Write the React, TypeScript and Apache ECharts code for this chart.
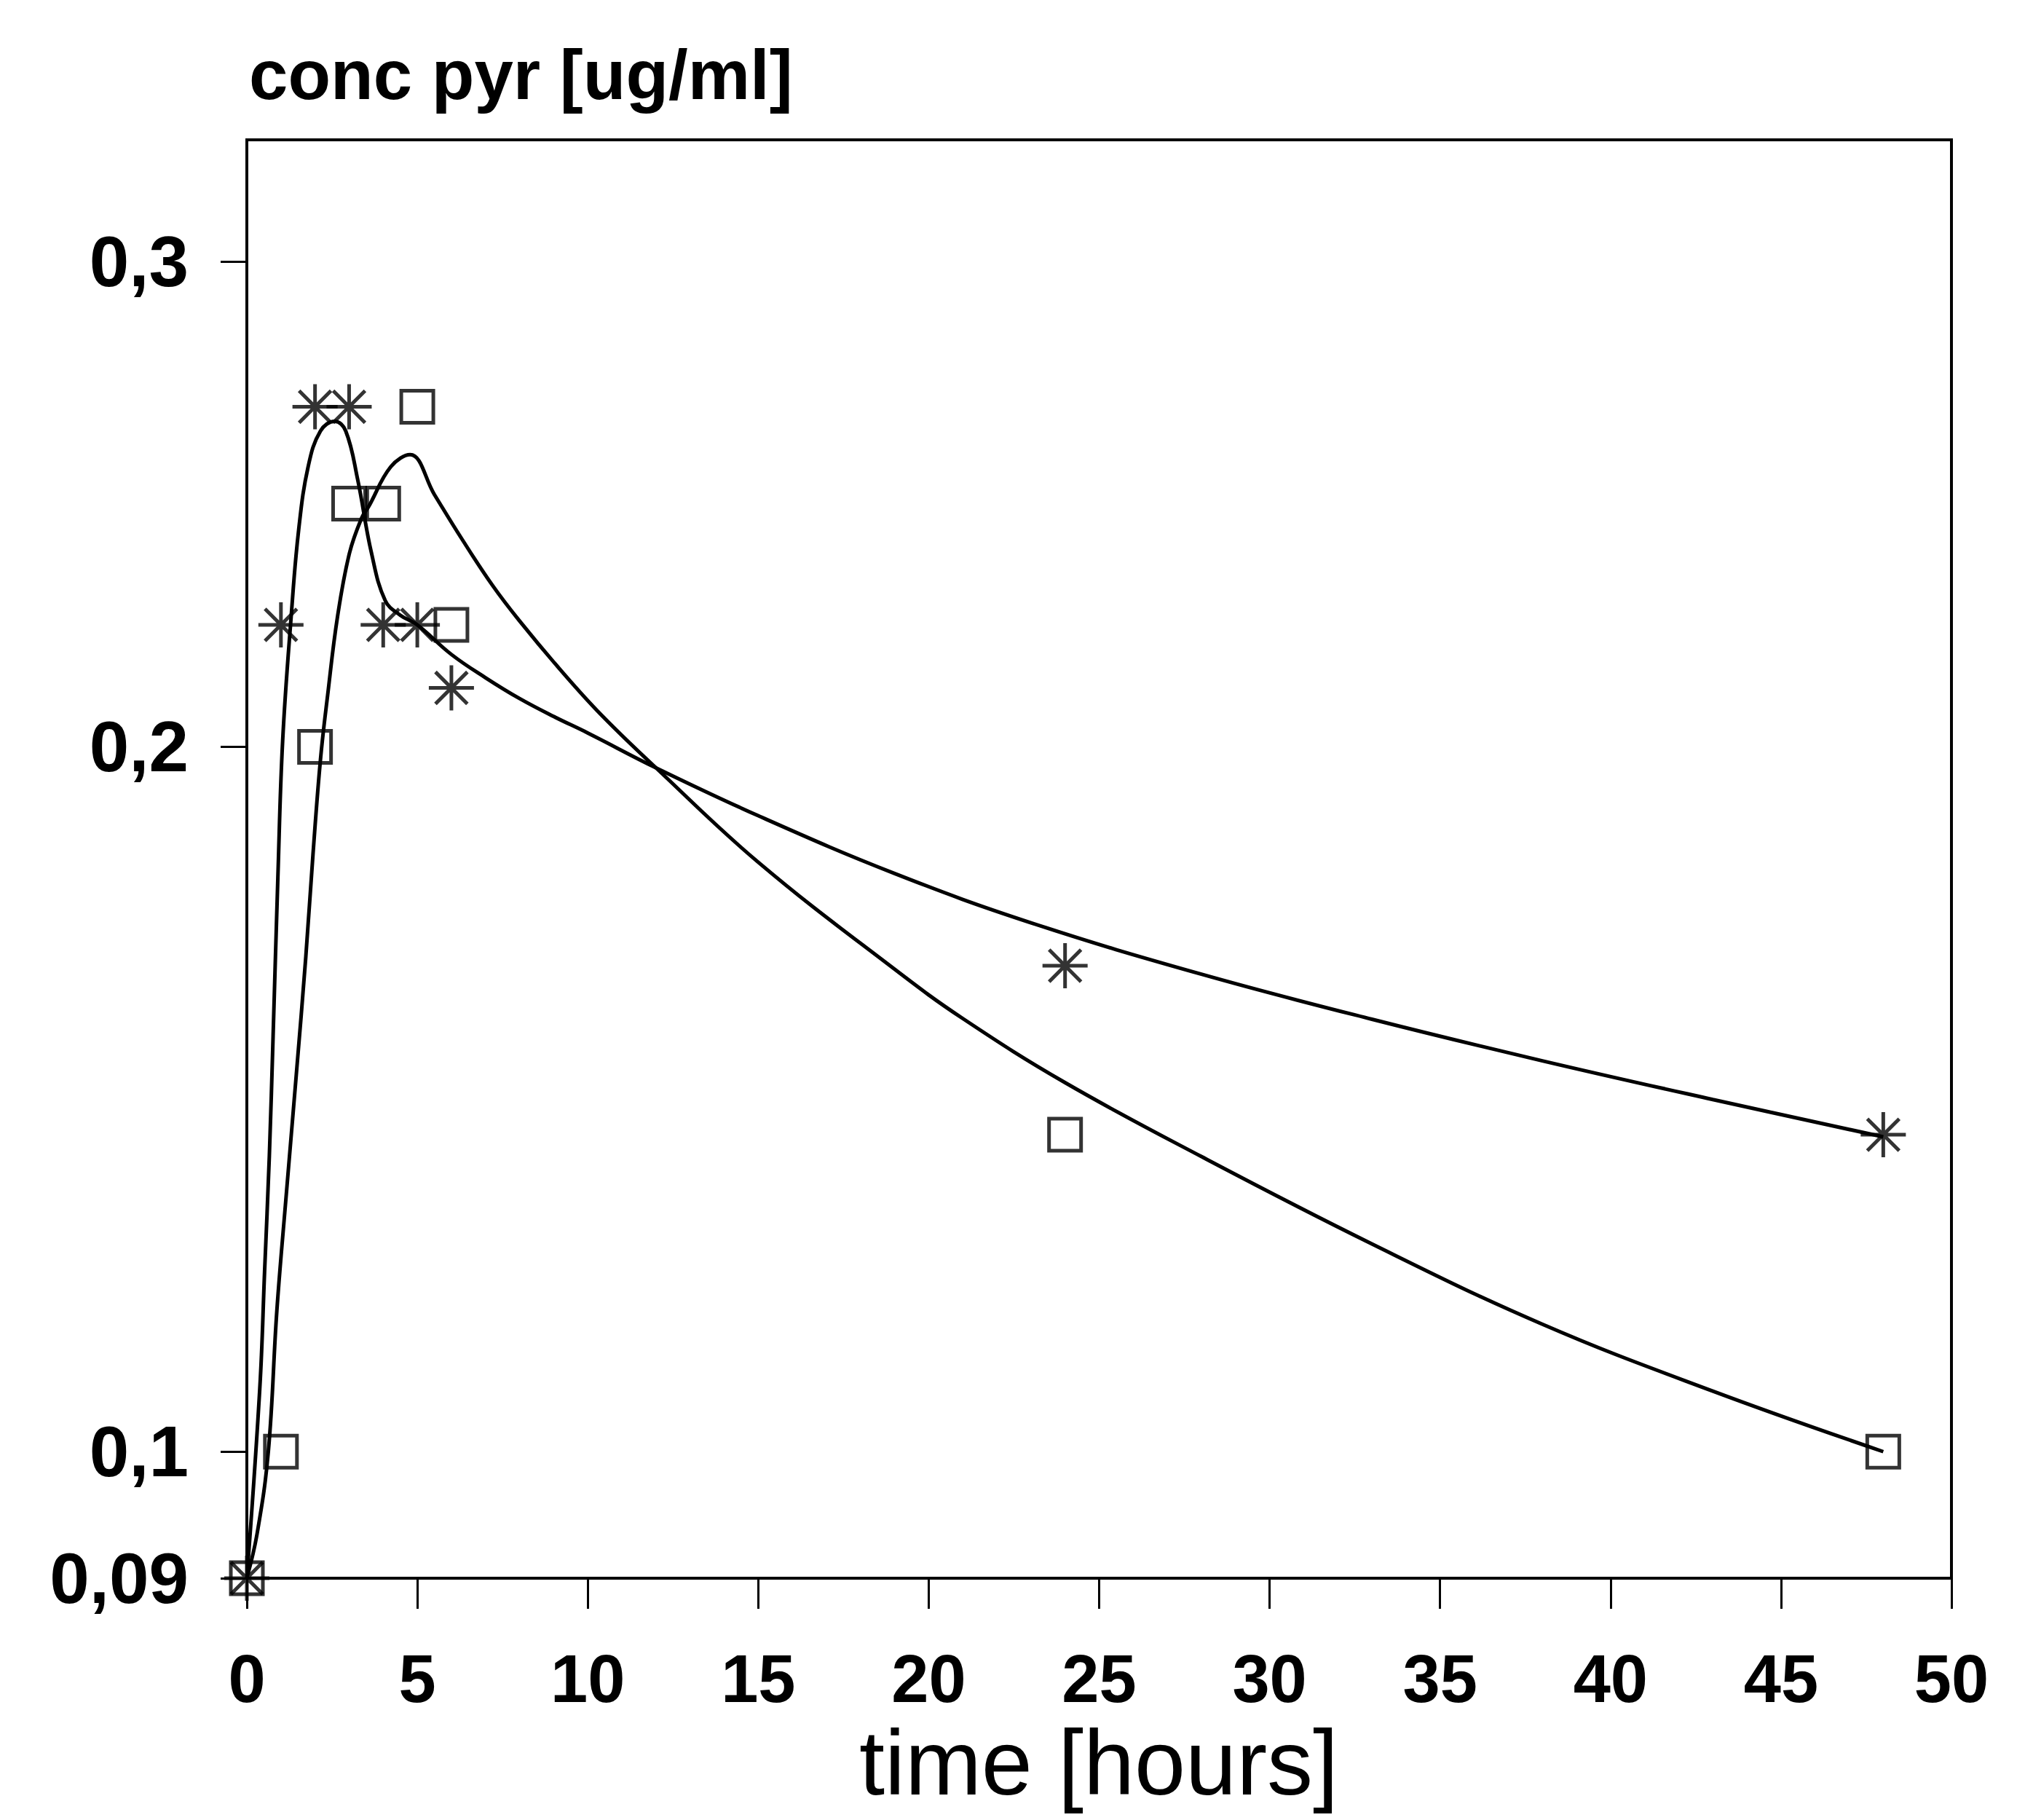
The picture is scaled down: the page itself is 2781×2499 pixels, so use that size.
import React, { useEffect, useRef } from 'react';
import * as echarts from 'echarts';

const W = 2781;
const H = 2499;

// measured points (asterisk series)
const markerTimesA = [0, 1, 2, 3, 4, 5, 6, 24, 48];
const markerConcA = [0.09, 0.225, 0.27, 0.27, 0.225, 0.225, 0.212, 0.169, 0.145];
// measured points (square series)
const markerTimesB = [0, 1, 2, 3, 4, 5, 6, 24, 48];
const markerConcB = [0.09, 0.1, 0.2, 0.25, 0.25, 0.27, 0.225, 0.145, 0.1];

// fitted curve for asterisk series
const fitTimeA = [0, 0.38, 0.52, 0.66, 0.77, 0.91, 1.05, 1.3, 1.52, 1.8, 2.16, 2.58, 2.9, 3.25, 3.65, 4.06, 4.5, 5, 6, 7, 8, 9, 10, 12, 15, 19, 23, 28, 33, 38, 43, 48];
const fitConcA = [0.09, 0.109, 0.1255, 0.142, 0.159, 0.1815, 0.201, 0.2267, 0.2446, 0.2577, 0.265, 0.267, 0.265, 0.255, 0.24, 0.23, 0.227, 0.225, 0.2189, 0.2141, 0.2098, 0.2061, 0.2027, 0.1971, 0.1903, 0.1821, 0.1751, 0.1678, 0.1614, 0.1555, 0.15, 0.1447];

// fitted curve for square series
const fitTimeB = [0, 0.3, 0.63, 0.88, 1.16, 1.45, 1.73, 1.94, 2.16, 2.37, 2.66, 3.01, 3.37, 3.58, 4.22, 4.79, 5.5, 6.3, 7.2, 8, 9.2, 10.4, 12, 15, 19, 21, 24, 28, 33, 38, 43, 48];
const fitConcB = [0.09, 0.0935, 0.1, 0.12, 0.1367, 0.1535, 0.1703, 0.1848, 0.1983, 0.2105, 0.2267, 0.2398, 0.2471, 0.2495, 0.2576, 0.2601, 0.2519, 0.2428, 0.2332, 0.2258, 0.2157, 0.2064, 0.1971, 0.1837, 0.1685, 0.1615, 0.1524, 0.1419, 0.1295, 0.1181, 0.1086, 0.1];

const yTicks = [0.09, 0.1, 0.2, 0.3];
const xTickStep = 5;

const zip = (a: number[], b: number[]) => a.map((v, i) => [v, b[i]]);
const fmt = (v: number) => String(v).replace('.', ',');

const ASTERISK = 'path://M0,-10L0,10M-10,0L10,0M-7.07,-7.07L7.07,7.07M-7.07,7.07L7.07,-7.07';
const FONT = 'Liberation Sans';

export default function App() {
  const ref = useRef<HTMLDivElement>(null);
  useEffect(() => {
    document.body.style.margin = '0';
    const chart = echarts.init(ref.current!, null, { renderer: 'svg', width: W, height: H });
    chart.setOption({
      animation: false,
      backgroundColor: '#fff',
      grid: {
        left: 339, right: 101, top: 192, bottom: 332,
        show: true, borderColor: '#000', borderWidth: 4,
        containLabel: false, outerBoundsMode: 'none',
      },
      graphic: [
        {
          type: 'text', left: 342, top: 54,
          style: { text: 'conc pyr [ug/ml]', font: `bold 96px "${FONT}"`, lineHeight: 96, fill: '#000' },
        },
        {
          type: 'text', x: 1509, y: 2420,
          style: {
            text: 'time [hours]', font: `126px "${FONT}"`, lineHeight: 70, fill: '#000',
            align: 'center', verticalAlign: 'middle',
          },
        },
      ],
      xAxis: {
        type: 'value', min: 0, max: 50, interval: xTickStep,
        axisLine: { show: true, lineStyle: { color: '#000', width: 4 } },
        axisTick: { show: true, inside: false, length: 42, lineStyle: { color: '#000', width: 3 } },
        axisLabel: {
          margin: 108, lineHeight: 60, fontFamily: FONT, fontWeight: 'bold', fontSize: 92, color: '#000',
        },
        splitLine: { show: false },
      },
      yAxis: {
        type: 'value', min: 0.09, max: 0.3096,
        breaks: [
          { start: 0.1, end: 0.1999, gap: 0.0556 },
          { start: 0.2001, end: 0.3, gap: 0.03827 },
        ],
        breakArea: { show: false, itemStyle: { color: 'rgba(0,0,0,0)', borderColor: 'rgba(0,0,0,0)', opacity: 0 } },
        axisLine: { show: true, lineStyle: { color: '#000', width: 4 } },
        axisTick: { show: true, inside: false, length: 36, customValues: yTicks, lineStyle: { color: '#000', width: 3 } },
        axisLabel: {
          customValues: yTicks, formatter: (v: number) => fmt(v), margin: 80, lineHeight: 80,
          fontFamily: FONT, fontWeight: 'bold', fontSize: 98, color: '#000',
        },
        splitLine: { show: false },
      },
      series: [
        {
          type: 'line', data: zip(fitTimeA, fitConcA), smooth: 0.4, showSymbol: false,
          lineStyle: { color: '#000', width: 5 }, silent: true,
        },
        {
          type: 'line', data: zip(fitTimeB, fitConcB), smooth: 0.4, showSymbol: false,
          lineStyle: { color: '#000', width: 5 }, silent: true,
        },
        {
          type: 'scatter', data: zip(markerTimesA, markerConcA), symbol: ASTERISK, symbolSize: 62,
          itemStyle: { color: 'none', borderColor: '#000', borderWidth: 5 },
        },
        {
          type: 'scatter', data: zip(markerTimesB, markerConcB), symbol: 'rect', symbolSize: 44,
          itemStyle: { color: 'none', borderColor: '#000', borderWidth: 5 },
        },
      ],
    });
    return () => chart.dispose();
  }, []);
  return <div ref={ref} style={{ width: W, height: H, background: '#fff' }} />;
}
